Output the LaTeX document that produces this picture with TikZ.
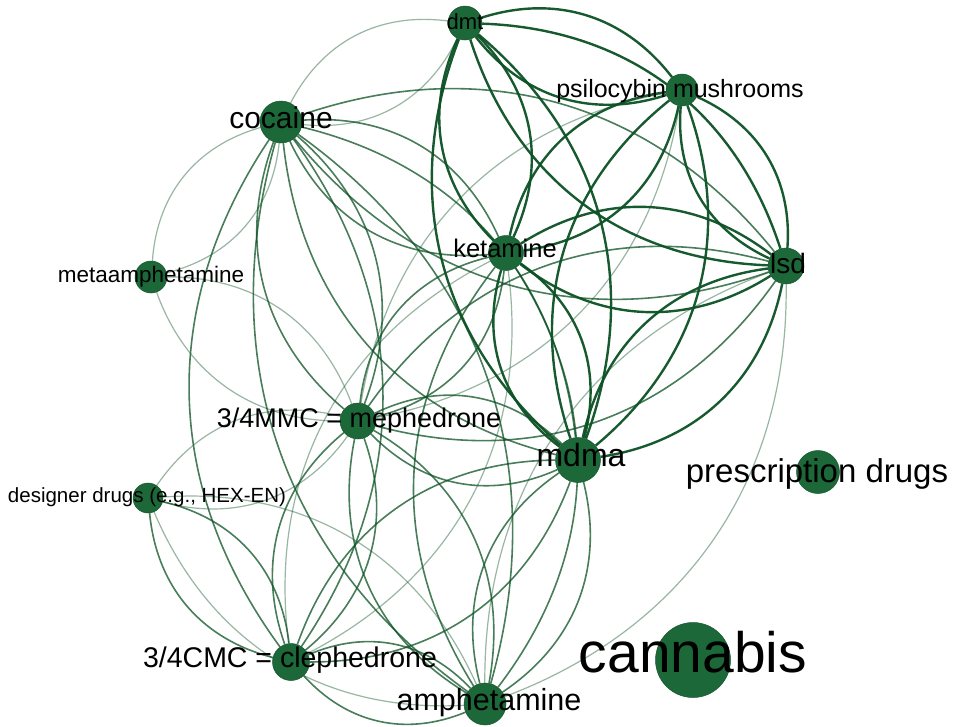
\documentclass[tikz,border=0pt]{standalone}
\usepackage{fontspec}
\setmainfont{Liberation Sans}
\usetikzlibrary{backgrounds}
\definecolor{nodeg}{RGB}{28,104,56}
\definecolor{edgeg}{RGB}{12,82,36}
\newcommand\duo[3]{\draw[#1] (#2) to[bend left=35] (#3); \draw[#1] (#2) to[bend right=35] (#3);}
\begin{document}
\begin{tikzpicture}[x=1pt,y=-1pt,
  drug/.style={circle,fill=nodeg,draw=nodeg!85!black,line width=0.5pt,inner sep=0pt,minimum size=#1},
  lab/.style={text=black,inner sep=0pt,anchor=base,font=\fontsize{#1}{#1}\selectfont},
  wS/.style={draw=edgeg,line width=2.4pt,opacity=0.95},
  wM/.style={draw=edgeg,line width=1.6pt,opacity=0.75},
  wW/.style={draw=edgeg,line width=1.2pt,opacity=0.42}]
\useasboundingbox (0,0) rectangle (953,726);
% nodes
\node[drug=34pt] (dmt) at (465,23) {};
\node[drug=32pt] (psi) at (682,90) {};
\node[drug=42pt] (coc) at (281,122) {};
\node[drug=35pt] (ket) at (506,253) {};
\node[drug=36pt] (lsd) at (786,266) {};
\node[drug=32pt] (met) at (151,277) {};
\node[drug=36pt] (mep) at (358,421) {};
\node[drug=45pt] (mdm) at (578,460) {};
\node[drug=43pt] (pre) at (818,472) {};
\node[drug=30pt] (des) at (148,498) {};
\node[drug=37pt] (cle) at (291,662) {};
\node[drug=42pt] (amp) at (485,704) {};
\node[drug=75pt] (can) at (693,660) {};
% labels
\node[lab=22] (dmtL) at (465,29) {dmt};
\node[lab=25] (psiL) at (680,97) {psilocybin mushrooms};
\node[lab=30] (cocL) at (281,128) {cocaine};
\node[lab=25.5] (ketL) at (505,257) {ketamine};
\node[lab=28] (lsdL) at (788,273) {lsd};
\node[lab=22.5] (metL) at (151,282) {metaamphetamine};
\node[lab=27] (mepL) at (359,427) {3/4MMC = mephedrone};
\node[lab=32] (mdmL) at (581,466) {mdma};
\node[lab=33] (preL) at (817,482) {prescription drugs};
\node[lab=20.5] (desL) at (147,502) {designer drugs (e.g., HEX-EN)};
\node[lab=28.5] (cleL) at (290,667) {3/4CMC = clephedrone};
\node[lab=30.5] (ampL) at (489,710) {amphetamine};
\node[lab=57] (canL) at (693,672) {cannabis};
% edges
\begin{scope}[on background layer]
\fill[white] (0,0) rectangle (953,726);
% weak
\duo{wW}{coc}{dmt}
\duo{wW}{coc}{met}
\duo{wW}{met}{mep}
\duo{wW}{des}{mep}
\duo{wW}{des}{amp}
\duo{wW}{amp}{lsd}
\duo{wW}{cle}{ket}
\duo{wW}{mep}{psi}
% medium
\duo{wM}{coc}{ket}
\duo{wM}{coc}{mdm}
\duo{wM}{coc}{mep}
\duo{wM}{coc}{cle}
\duo{wM}{coc}{amp}
\duo{wM}{coc}{lsd}
\duo{wM}{mep}{ket}
\duo{wM}{mep}{mdm}
\duo{wM}{mep}{cle}
\duo{wM}{mep}{amp}
\duo{wM}{mep}{lsd}
\duo{wM}{amp}{mdm}
\duo{wM}{amp}{ket}
\duo{wM}{cle}{amp}
\duo{wM}{cle}{des}
\duo{wM}{cle}{mdm}
% strong
\duo{wS}{dmt}{psi}
\duo{wS}{dmt}{ket}
\duo{wS}{dmt}{lsd}
\duo{wS}{dmt}{mdm}
\duo{wS}{psi}{ket}
\duo{wS}{psi}{lsd}
\duo{wS}{psi}{mdm}
\duo{wS}{ket}{lsd}
\duo{wS}{ket}{mdm}
\duo{wS}{lsd}{mdm}
\end{scope}
\end{tikzpicture}
\end{document}
